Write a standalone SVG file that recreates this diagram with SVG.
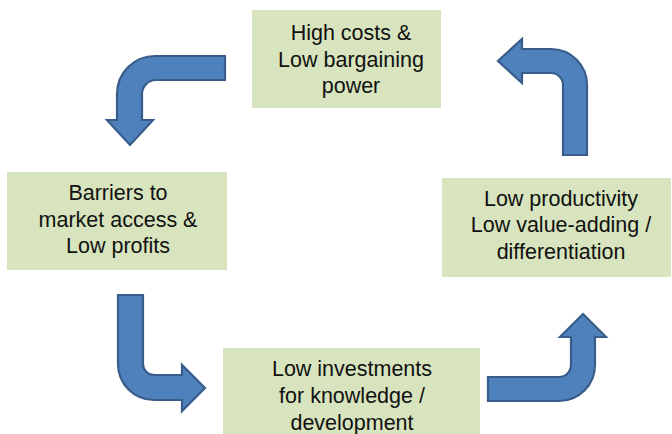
<svg xmlns="http://www.w3.org/2000/svg" width="672" height="434" viewBox="0 0 672 434">
<style>
.box{fill:#D7E4BD;}
.lbl{font-family:"Liberation Sans",Arial,sans-serif;font-size:21.5px;fill:#111;text-anchor:middle;}
.arr{fill:#4F81BD;stroke:#385D8A;stroke-width:2.2;stroke-linejoin:miter;}
</style>
<rect width="672" height="434" fill="#fff"/>
<g id="node-high-costs">
<rect class="box" x="252" y="10" width="189" height="98"/>
<text class="lbl" x="351" y="40">High costs &amp;</text>
<text class="lbl" x="351" y="66.5">Low bargaining</text>
<text class="lbl" x="351" y="93">power</text>
</g>
<g id="node-barriers">
<rect class="box" x="7" y="172" width="220" height="98"/>
<text class="lbl" x="118" y="199.5">Barriers to</text>
<text class="lbl" x="118" y="226.5">market access &amp;</text>
<text class="lbl" x="118" y="253">Low profits</text>
</g>
<g id="node-low-productivity">
<rect class="box" x="442" y="178" width="229" height="99"/>
<text class="lbl" x="561" y="205.5">Low productivity</text>
<text class="lbl" x="561" y="232">Low value-adding /</text>
<text class="lbl" x="561" y="259">differentiation</text>
</g>
<g id="node-low-investments">
<rect class="box" x="223" y="348" width="257" height="90"/>
<text class="lbl" x="352" y="376">Low investments</text>
<text class="lbl" x="352" y="403">for knowledge /</text>
<text class="lbl" x="352" y="430">development</text>
</g>
<g id="connectors">
<path class="arr" d="M225,56 L155,56 A38,38 0 0 0 117,94 L117,120 L107,120 L130,145 L153,120 L142,120 L142,94 A14,14 0 0 1 156,80 L225,80 Z"/>
<path class="arr" d="M118,295 L143,295 L143,364 A11,11 0 0 0 154,375 L182,375 L182,365 L205,388 L182,411 L182,400 L154,400 A36,36 0 0 1 118,364 Z"/>
<path class="arr" d="M488,377 L559,377 A12,12 0 0 0 571,365 L571,337 L560,337 L583,314 L606,337 L595,337 L595,365 A36,36 0 0 1 559,401 L488,401 Z"/>
<path class="arr" d="M563,155 L563,85 A12,12 0 0 0 551,73 L522,73 L522,83 L498,61 L522,39 L522,49 L551,49 A36,36 0 0 1 587,85 L587,155 Z"/>
</g>
</svg>
